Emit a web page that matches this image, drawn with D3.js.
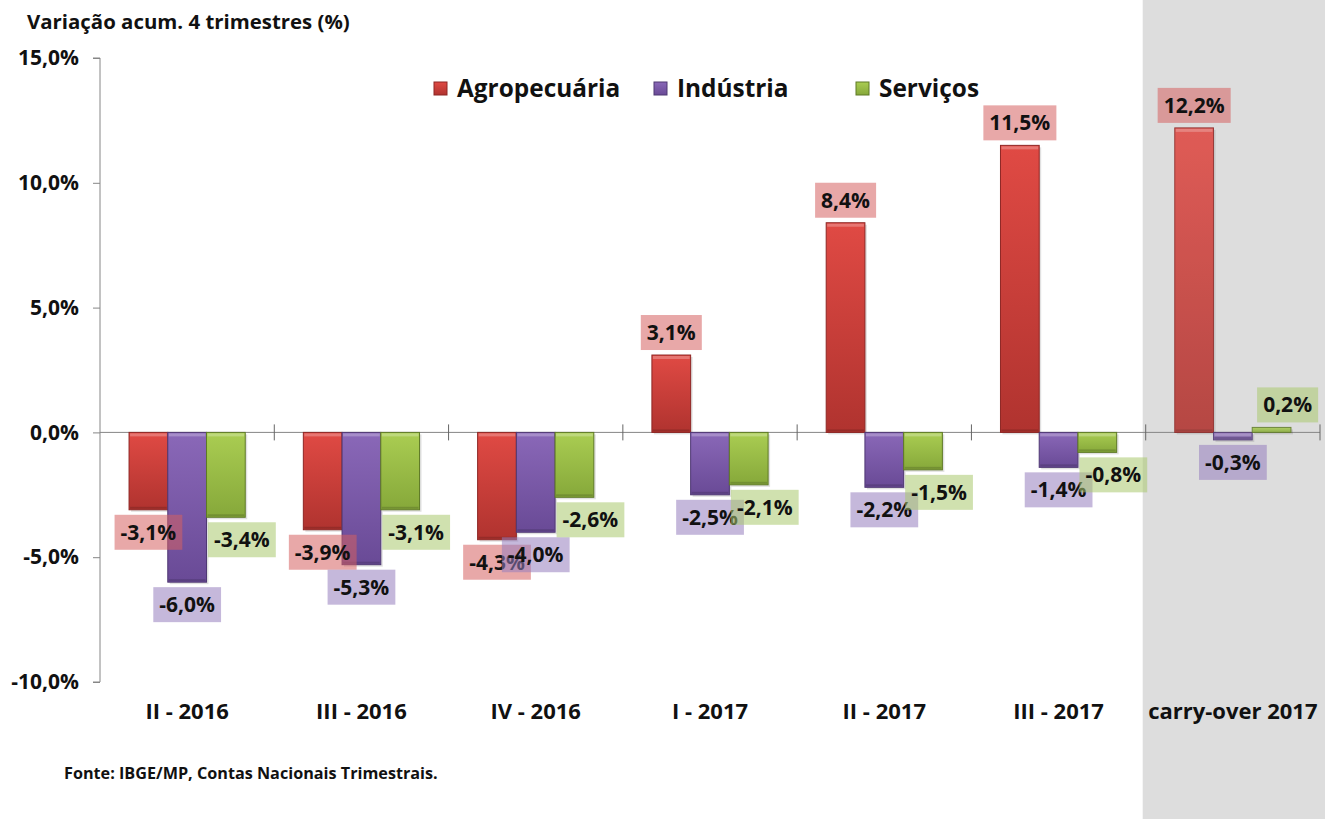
<!DOCTYPE html>
<html>
<head>
<meta charset="utf-8">
<script src="https://cdn.jsdelivr.net/npm/d3@7"></script>
<style>
  body { margin: 0; background: #fff; }
  text { font-family: "Open Sans", "Noto Sans", sans-serif; font-weight: bold; fill: #111; }
</style>
</head>
<body>
<svg id="chart" width="1325" height="819"></svg>
<script>
var categories = ["II - 2016", "III - 2016", "IV - 2016", "I - 2017", "II - 2017", "III - 2017", "carry-over 2017"];
var seriesNames = ["Agropecuária", "Indústria", "Serviços"];
var agro = [-3.1, -3.9, -4.3, 3.1, 8.4, 11.5, 12.2];
var industria = [-6.0, -5.3, -4.0, -2.5, -2.2, -1.4, -0.3];
var servicos = [-3.4, -3.1, -2.6, -2.1, -1.5, -0.8, 0.2];
var yTicks = [-10, -5, 0, 5, 10, 15];

var colors = {
  "Agropecuária": {top: "#e04a44", bottom: "#b0332f", edge: "#8e2624", label: "rgba(214,96,96,0.55)"},
  "Indústria": {top: "#8a68b8", bottom: "#694a96", edge: "#4f3873", label: "rgba(150,125,190,0.55)"},
  "Serviços": {top: "#aacd52", bottom: "#86a83a", edge: "#5f7a26", label: "rgba(170,200,110,0.55)"}
};

var svg = d3.select("#chart");
var fmt = function(v) { return v.toFixed(1).replace(".", ",") + "%"; };

var x = d3.scaleBand().domain(categories).range([100, 1320]).padding(0);
var xs = d3.scaleBand().domain(seriesNames).range([0, x.bandwidth()]).paddingInner(0).paddingOuter(0.75);
var y = d3.scaleLinear().domain([-10, 15]).range([682, 58]);

// gradients
var defs = svg.append("defs");
seriesNames.forEach(function(s, i) {
  var g = defs.append("linearGradient").attr("id", "grad" + i)
    .attr("x1", 0).attr("y1", 0).attr("x2", 0).attr("y2", 1);
  g.append("stop").attr("offset", "0%").attr("stop-color", colors[s].top);
  g.append("stop").attr("offset", "100%").attr("stop-color", colors[s].bottom);
});

// grey carry-over background
svg.append("rect")
  .attr("x", x("carry-over 2017") - 3)
  .attr("y", 0)
  .attr("width", 1325 - x("carry-over 2017") + 3)
  .attr("height", 819)
  .attr("fill", "#dddddd");

// title
svg.append("text").attr("x", 27).attr("y", 29).attr("font-size", 20.4).text("Variação acum. 4 trimestres (%)");

// y axis
var yAxis = svg.append("g")
  .attr("transform", "translate(100,0)")
  .call(d3.axisLeft(y).tickValues(yTicks).tickSize(7).tickPadding(14).tickFormat(fmt));
yAxis.selectAll("path, line").attr("stroke", "#868686");
yAxis.selectAll("text").attr("font-size", 21).attr("font-family", "Open Sans").attr("font-weight", "bold").attr("fill", "#111");
yAxis.select(".domain").attr("d", "M-7," + y(15) + "H0V" + y(-10) + "H-7");

// zero line with boundary ticks
svg.append("line")
  .attr("x1", 100).attr("x2", 1320)
  .attr("y1", y(0)).attr("y2", y(0))
  .attr("stroke", "#868686");
var bounds = categories.map(function(c) { return x(c); }).concat([x.range()[1]]).slice(1);
svg.selectAll(".btick").data(bounds).enter().append("line")
  .attr("class", "btick")
  .attr("x1", function(d) { return d; }).attr("x2", function(d) { return d; })
  .attr("y1", y(0) - 8).attr("y2", y(0) + 8)
  .attr("stroke", "#666");

// category labels
var xAxis = svg.append("g")
  .attr("transform", "translate(0,699)")
  .call(d3.axisBottom(x).tickSize(0).tickPadding(0));
xAxis.select(".domain").remove();
xAxis.selectAll("text").attr("font-size", 22).attr("font-family", "Open Sans").attr("font-weight", "bold").attr("fill", "#111").attr("dy", "0.9em");

// bars
var seriesData = [agro, industria, servicos];
var rows = [];
seriesNames.forEach(function(s, i) {
  categories.forEach(function(c, j) {
    rows.push({series: s, idx: i, cat: c, value: seriesData[i][j]});
  });
});

var lastCat = categories[categories.length - 1];
var barG = svg.append("g");
rows.forEach(function(d) {
  var bx = x(d.cat) + xs(d.series);
  var by = Math.min(y(0), y(d.value));
  var bh = Math.abs(y(d.value) - y(0));
  var g = barG.append("g").attr("opacity", d.cat === lastCat ? 0.88 : 1);
  g.append("rect")
    .attr("x", bx + 2).attr("y", by + 2)
    .attr("width", xs.bandwidth()).attr("height", bh)
    .attr("fill", "rgba(0,0,0,0.12)");
  g.append("rect")
    .attr("x", bx).attr("y", by)
    .attr("width", xs.bandwidth()).attr("height", bh)
    .attr("fill", "url(#grad" + d.idx + ")")
    .attr("stroke", colors[d.series].edge).attr("stroke-width", 1);
  if (bh > 6) {
    g.append("rect")
      .attr("x", bx + 1).attr("y", by + 1)
      .attr("width", xs.bandwidth() - 2).attr("height", 3)
      .attr("fill", "rgba(255,255,255,0.25)");
    g.append("rect")
      .attr("x", bx + 1).attr("y", by + bh - 3)
      .attr("width", xs.bandwidth() - 2).attr("height", 2)
      .attr("fill", "rgba(0,0,0,0.15)");
  }
});

// data labels
var labelShift = {"Agropecuária": 0, "Indústria": 0, "Serviços": 16};
var labG = svg.append("g");
rows.forEach(function(d) {
  var cx = x(d.cat) + xs(d.series) + xs.bandwidth() / 2 + labelShift[d.series];
  var g = labG.append("g");
  var t = g.append("text")
    .attr("x", cx)
    .attr("text-anchor", "middle")
    .attr("font-size", 21)
    .text(fmt(d.value));
  var h = 35;
  var top = d.value >= 0 ? y(d.value) - 5 - h : y(d.value) + 5;
  t.attr("y", top + 25);
  var bb = t.node().getBBox();
  g.insert("rect", "text")
    .attr("x", bb.x - 6).attr("y", top)
    .attr("width", bb.width + 12).attr("height", h)
    .attr("fill", colors[d.series].label);
});

// legend
var legend = svg.append("g").attr("transform", "translate(434,0)");
var legendX = [0, 220, 422];
seriesNames.forEach(function(s, i) {
  var lg = legend.append("g").attr("transform", "translate(" + legendX[i] + ",0)");
  lg.append("rect").attr("x", 0).attr("y", 82).attr("width", 13).attr("height", 13)
    .attr("fill", "url(#grad" + i + ")").attr("stroke", colors[s].edge);
  lg.append("text").attr("x", 23).attr("y", 97).attr("font-size", 24.4).text(s);
});

// source
svg.append("text").attr("x", 64).attr("y", 779).attr("font-size", 16.2).text("Fonte: IBGE/MP, Contas Nacionais Trimestrais.");
</script>
</body>
</html>
